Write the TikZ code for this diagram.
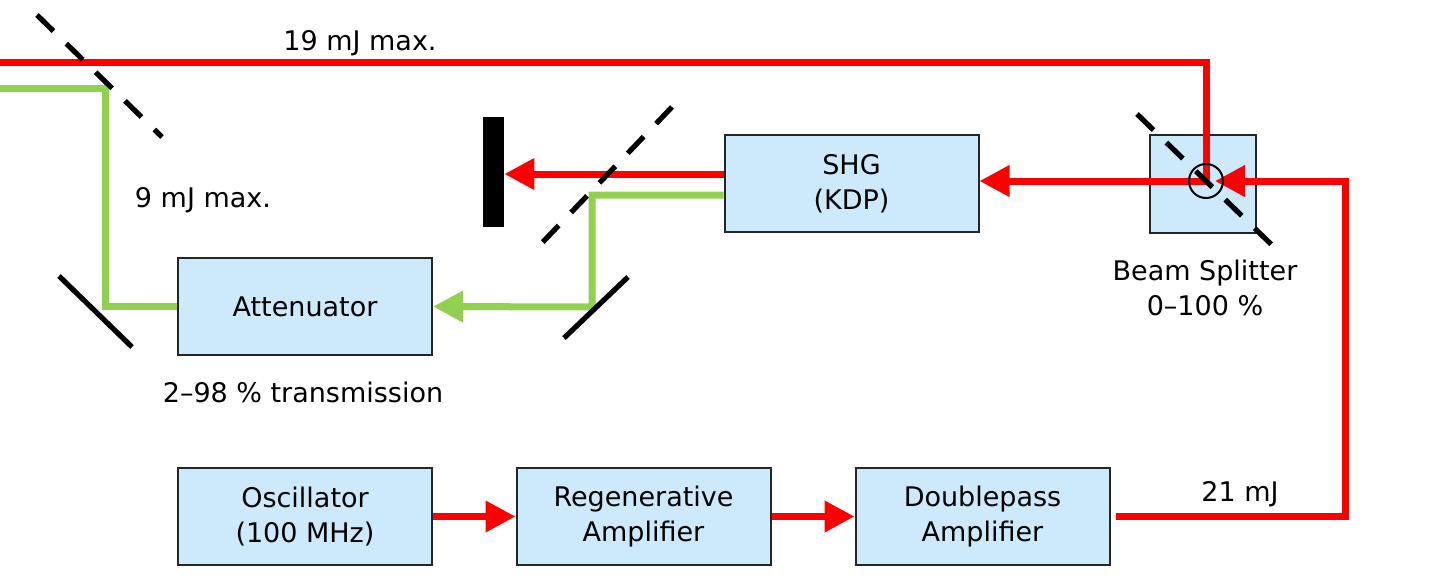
\documentclass[tikz,border=0pt]{standalone}
\usepackage{fontspec}
\setmainfont{DejaVu Sans}
\usetikzlibrary{arrows.meta,calc}
\definecolor{boxblue}{RGB}{204,234,252}
\definecolor{beamred}{RGB}{255,0,0}
\definecolor{beamgreen}{RGB}{146,208,80}
\begin{document}
\begin{tikzpicture}[x=0.5pt,y=-0.5pt,
  every node/.style={font=\fontsize{13.5pt}{17.5pt}\selectfont},
  blk/.style={draw=black!85,line width=1pt,fill=boxblue,minimum width=127pt,minimum height=48.5pt,align=center,inner sep=0pt},
  redbeam/.style={draw=beamred,line width=3.5pt,line join=miter},
  greenbeam/.style={draw=beamgreen,line width=3.5pt,line join=miter},
  tip/.style={-{Triangle[length=15pt,width=15pt]}},
  mirror/.style={line width=2.6pt,black},
  dmirror/.style={line width=2.6pt,black,dash pattern=on 11.5pt off 9pt},
  lbl/.style={inner sep=0pt}]
\useasboundingbox (0,0) rectangle (1445,585);
% boxes
\node[blk] (osc) at (305,516.5) {Oscillator\\(100 MHz)};
\node[blk] (reg) at (643.5,516.5) {Regenerative\\Amplifier};
\node[blk] (dp) at (982.5,516.5) {Doublepass\\Amplifier};
\node[blk] (att) at (305,306.5) {Attenuator};
\node[blk] (shg) at (851.5,183.5) {SHG\\(KDP)};
\node[draw=black!85,line width=1pt,fill=boxblue,minimum width=53pt,minimum height=49pt,inner sep=0pt] (bs) at (1203,183.5) {};
\node[fill=black,minimum width=10.5pt,minimum height=55pt,inner sep=0pt] (dump) at (493.5,172) {};
% coordinates
\coordinate (bsc) at (1206,181);
\coordinate (topleft) at (0,62);
\coordinate (rc) at (1345,181);
\coordinate (g2) at (592,307);
\coordinate (g4) at (105,88);
\coordinate (gl) at (0,88);
\coordinate (r1) at ($(shg.west)+(0,-9.5)$);
\coordinate (g1) at ($(shg.west)+(0,11.5)$);
% red beams
\draw[redbeam,tip] (osc.east) -- (reg.west);
\draw[redbeam,tip] (reg.east) -- (dp.west);
\draw[redbeam,tip] ($(dp.east)+(5,0)$) -| (rc) -- ($(bsc)+(9,0)$);
\draw[redbeam,tip] (bsc) -- (shg.east |- bsc);
\draw[redbeam] (topleft) -| (bsc);
\draw[redbeam,tip] (r1) -- (dump.east |- r1);
% green beams
\draw[greenbeam,tip] (g1) -| (g2) -- (att.east);
\draw[greenbeam] (att.west) -| (g4) -- (gl);
% mirrors
\draw[dmirror] (1137,114) -- (1275,248);
\draw[dmirror] (672,107) -- (540,245);
\draw[dmirror] (37,15) -- (162,137);
\draw[mirror] (628,277) -- (564,338);
\draw[mirror] (59,276) -- (132,347);
\node[draw=black,line width=1pt,circle,minimum size=17pt,inner sep=0pt] (bscirc) at (bsc) {};
% labels
\node[lbl] (l19) at (360,43) {19 mJ max.};
\node[lbl] (l9) at (203,200) {9 mJ max.};
\node[lbl] (ltr) at (303,392) {2–98 \% transmission};
\node[lbl] (l21) at (1240,494) {21 mJ};
\node[lbl,align=center] (lbs) at (1205,288) {Beam Splitter\\0–100 \%};
\end{tikzpicture}
\end{document}
